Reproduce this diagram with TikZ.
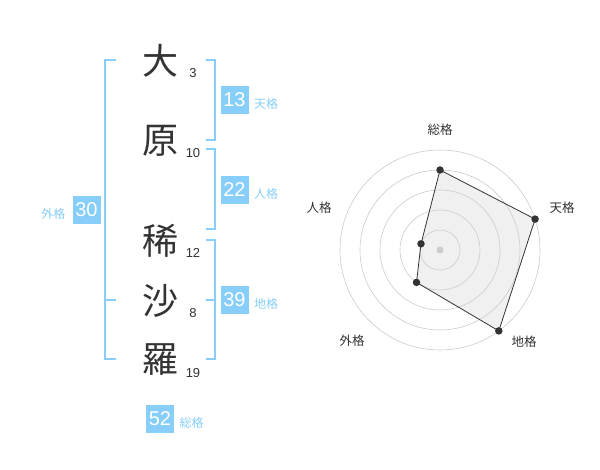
\documentclass[tikz,border=0pt]{standalone}
\usepackage{fontspec}
\setmainfont{Noto Sans CJK JP}
\newfontfamily\numfont{Liberation Sans}
\definecolor{kblue}{HTML}{87CEFA}
\definecolor{kdark}{HTML}{333333}
\definecolor{kgrid}{HTML}{CCCCCC}
\definecolor{kfill}{HTML}{F0F0F0}
\begin{document}
\begin{tikzpicture}[x=1pt,y=-1pt,
  kanji/.style={font=\fontsize{36}{36}\selectfont, text=kdark, inner sep=0pt},
  strokes/.style={font=\numfont\fontsize{13}{13}\selectfont, text=kdark, inner sep=0pt},
  numbox/.style={fill=kblue, text=white, minimum width=28pt, minimum height=28pt, inner sep=0pt, font=\numfont\fontsize{20}{20}\selectfont},
  kaku/.style={text=kblue, font=\fontsize{12}{12}\selectfont, inner sep=0pt},
  brk/.style={draw=kblue, line width=2pt},
  grid/.style={draw=kgrid, line width=0.6pt},
  axlab/.style={text=kdark, font=\fontsize{12.5}{12.5}\selectfont, inner sep=0pt},
  dot/.style={circle, fill=kdark, inner sep=0pt, minimum size=7.5pt}]
\useasboundingbox (0,0) rectangle (600,470);
\fill[white] (0,0) rectangle (600,470);
% characters
\node[kanji] (c1) at (160,61) {大};
\node[kanji] (c2) at (160,141) {原};
\node[kanji] (c3) at (160,241) {稀};
\node[kanji] (c4) at (160,301) {沙};
\node[kanji] (c5) at (160,360) {羅};
\node[strokes] (s1) at (193,73) {3};
\node[strokes] (s2) at (193,153) {10};
\node[strokes] (s3) at (193,253) {12};
\node[strokes] (s4) at (193,313) {8};
\node[strokes] (s5) at (193,373) {19};
% brackets
\draw[brk] (205.5,60) -- (214.5,60) -- (214.5,140) -- (205.5,140);
\draw[brk] (205.5,149.5) -- (214.5,149.5) -- (214.5,229.5) -- (205.5,229.5);
\draw[brk] (205.5,240) -- (214.5,240) -- (214.5,359.5) -- (205.5,359.5);
\draw[brk] (205.5,300) -- (214.5,300);
\draw[brk] (116,60) -- (105,60) -- (105,359.5) -- (116,359.5);
\draw[brk] (105,300) -- (116,300);
% boxes
\node[numbox] (b13) at (234.5,100) {13};
\node[kaku, anchor=west] (l13) at (254,103.5) {天格};
\node[numbox] (b22) at (234.5,190) {22};
\node[kaku, anchor=west] (l22) at (254,193.5) {人格};
\node[numbox] (b39) at (234.5,300) {39};
\node[kaku, anchor=west] (l39) at (254,303.5) {地格};
\node[numbox] (b30) at (86.5,210) {30};
\node[kaku, anchor=east] (l30) at (65.5,213.5) {外格};
\node[numbox] (b52) at (160,419) {52};
\node[kaku, anchor=west] (l52) at (179.5,422.5) {総格};
% radar
\coordinate (pS) at (440,170);
\coordinate (pT) at (535.1,219.1);
\coordinate (pC) at (498.8,330.9);
\coordinate (pG) at (416.5,282.4);
\coordinate (pJ) at (421.0,243.8);
\fill[kfill] (pS) -- (pT) -- (pC) -- (pG) -- (pJ) -- cycle;
\foreach \r in {20,40,60,80,100} \draw[grid] (440,250) circle (\r);
\fill[kgrid] (440,250) circle (3.5);
\draw[kdark, line width=0.8pt] (pS) -- (pT) -- (pC) -- (pG) -- (pJ) -- cycle;
\node[dot] (dS) at (pS) {};
\node[dot] (dT) at (pT) {};
\node[dot] (dC) at (pC) {};
\node[dot] (dG) at (pG) {};
\node[dot] (dJ) at (pJ) {};
\node[axlab] (aS) at (440,130) {総格};
\node[axlab] (aT) at (562,208) {天格};
\node[axlab] (aC) at (524,342) {地格};
\node[axlab] (aG) at (352,341) {外格};
\node[axlab] (aJ) at (319,208) {人格};
\end{tikzpicture}
\end{document}
